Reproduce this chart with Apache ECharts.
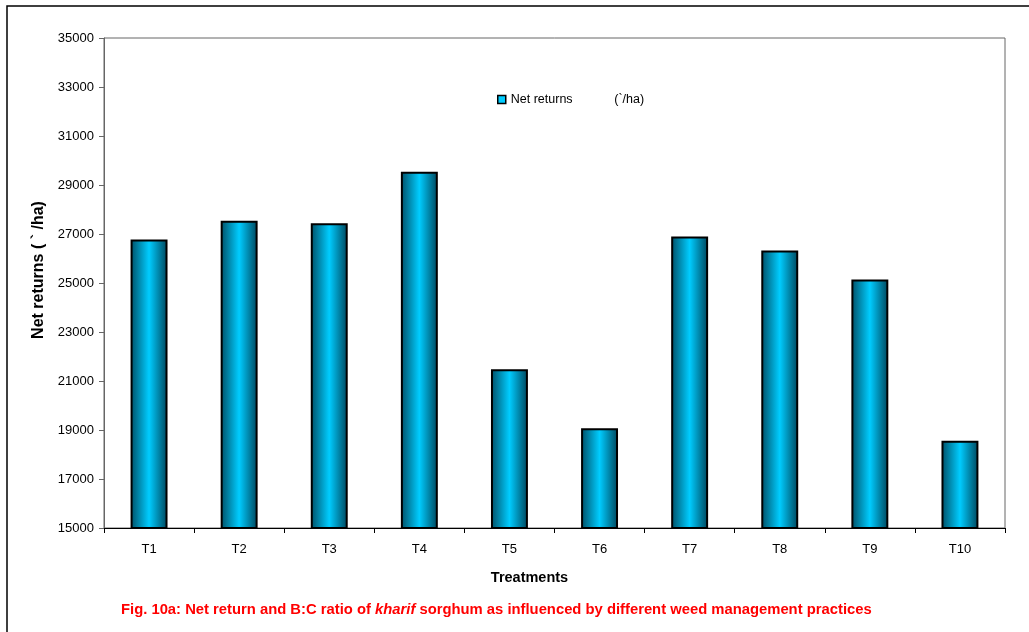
<!DOCTYPE html>
<html><head><meta charset="utf-8">
<script src="https://cdn.jsdelivr.net/npm/echarts@6/dist/echarts.min.js"></script>
<style>html,body{margin:0;padding:0;background:#fff}#c{width:1029px;height:632px}</style>
</head><body><div id="c"></div>
<script>
const categories = ['T1','T2','T3','T4','T5','T6','T7','T8','T9','T10'];
const netReturns = [26780, 27540, 27440, 29540, 21480, 19070, 26900, 26330, 25140, 18560];
const yTicks = [15000, 17000, 19000, 21000, 23000, 25000, 27000, 29000, 31000, 33000, 35000];

const chart = echarts.init(document.getElementById('c'), null, {renderer:'canvas'});
const font = 'Arial, "Liberation Sans", sans-serif';
const barGrad = new echarts.graphic.LinearGradient(0,0,1,0,[
  {offset:0, color:'#004f66'},
  {offset:0.5, color:'#00ccff'},
  {offset:1, color:'#00465c'}
]);
chart.setOption({
  animation:false,
  backgroundColor:'#fff',
  textStyle:{fontFamily:font},
  graphic:[{type:'rect', shape:{x:7, y:6, width:1040, height:650}, style:{fill:'none', stroke:'#000', lineWidth:1.5}, silent:true}],
  title:{
    text:'{n|Fig. 10a: Net return and B:C ratio of }{i|kharif}{n| sorghum as influenced by different weed management practices}',
    left:116, top:597,
    textStyle:{rich:{
      n:{fontFamily:font, fontSize:14.8, fontWeight:'bold', color:'#ff0000'},
      i:{fontFamily:font, fontSize:14.8, fontWeight:'bold', fontStyle:'italic', color:'#ff0000'}
    }}
  },
  legend:{
    left:492, top:88, itemWidth:8, itemHeight:8, itemGap:4,
    icon:'rect',
    data:[{name:'Net returns (`/ha)', itemStyle:{color:'#00ccff', borderColor:'#000', borderWidth:1.5}}],
    formatter:()=> 'Net returns            (`/ha)',
    textStyle:{fontFamily:font, fontSize:12.5, color:'#000', padding:[0,0,0,0]}
  },
  grid:{left:104, right:24, top:38, bottom:104, show:true, borderColor:'#666', borderWidth:1},
  xAxis:{
    type:'category', data:categories,
    name:'Treatments', nameLocation:'middle', nameGap:42,
    nameTextStyle:{fontFamily:font, fontSize:14.5, fontWeight:'bold', color:'#000', padding:[0,50,0,0]},
    axisLine:{lineStyle:{color:'#000', width:1}},
    axisTick:{show:true, alignWithLabel:false, length:5, lineStyle:{color:'#000'}},
    axisLabel:{fontFamily:font, fontSize:13, color:'#000', margin:15}
  },
  yAxis:{
    type:'value', min:15000, max:35000, interval:2000,
    name:'Net returns ( ` /ha)', nameLocation:'middle', nameGap:54, nameRotate:90,
    nameTextStyle:{fontFamily:font, fontSize:16, fontWeight:'bold', color:'#000', padding:[0,0,0,26]},
    axisLine:{show:true, lineStyle:{color:'#666', width:1}},
    axisTick:{show:true, length:5, lineStyle:{color:'#666'}},
    splitLine:{show:false},
    axisLabel:{fontFamily:font, fontSize:13, color:'#000', margin:10,
      formatter:(v)=> yTicks.includes(v) ? String(v) : ''}
  },
  series:[{
    name:'Net returns (`/ha)', type:'bar', data:netReturns,
    barWidth:'41%',
    itemStyle:{color:barGrad, borderColor:'#000', borderWidth:2}
  }]
});
</script></body></html>
